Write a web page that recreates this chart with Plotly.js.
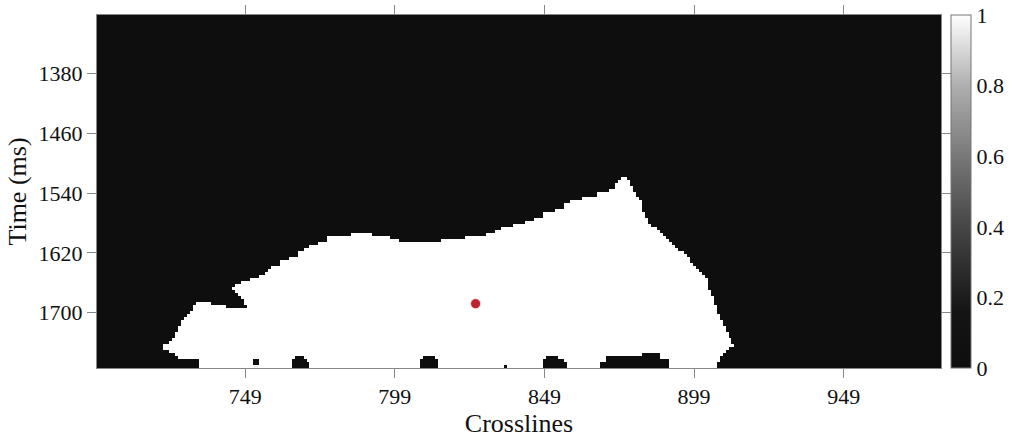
<!DOCTYPE html>
<html>
<head>
<meta charset="utf-8">
<script src="https://cdn.plot.ly/plotly-3.0.1.min.js"></script>
<style>
  html, body { margin: 0; padding: 0; background: #fff; }
  #chart { width: 1013px; height: 447px; }
</style>
</head>
<body>
<div id="chart"></div>
<script>
// grid of the section
const firstCrossline = 700;
const lastCrossline = 981;
const firstTime = 1304;
const lastTime = 1772;
const sampleRate = 4;

// top of the body: first white sample, run starts at topCols[i]
const topCols = [722, 724, 725, 726, 727, 728, 729, 730, 731, 732, 733, 738, 743, 745, 746, 748, 751, 754, 756, 757,
    758, 761, 764, 767, 769, 771, 774, 777, 785, 792, 798, 801, 815, 823, 830, 833, 835, 839, 843, 846,
    849, 853, 856, 858, 862, 867, 871, 873, 874, 875, 877, 878, 879, 880, 881, 882, 883, 884, 885, 887,
    888, 889, 890, 891, 892, 893, 894, 896, 897, 898, 899, 900, 901, 902, 903, 904, 905, 906, 907, 908,
    909, 910, 911, 912];
const topTimes = [1744, 1740, 1736, 1728, 1720, 1712, 1708, 1704, 1700, 1692, 1688, 1692, 1696, 1668, 1664, 1660, 1656, 1652, 1648, 1644,
    1640, 1632, 1628, 1620, 1616, 1612, 1608, 1600, 1596, 1600, 1604, 1608, 1604, 1600, 1596, 1592, 1588, 1584, 1580, 1576,
    1568, 1564, 1556, 1552, 1548, 1540, 1536, 1528, 1524, 1520, 1524, 1532, 1540, 1548, 1552, 1568, 1576, 1584, 1588, 1592,
    1596, 1600, 1604, 1608, 1612, 1616, 1620, 1624, 1628, 1636, 1640, 1644, 1648, 1652, 1656, 1672, 1680, 1692, 1704, 1712,
    1720, 1728, 1736, 1744];
const bodyLastCol = 912;

// base of the body: last white sample
const bottomCols = [722, 724, 726, 727, 734, 765, 766, 769, 770, 771, 808, 809, 813, 814, 836, 837, 849, 850, 854, 856,
    857, 868, 870, 882, 888, 891, 907, 908, 909, 910, 911];
const bottomTimes = [1748, 1752, 1756, 1760, 1772, 1760, 1756, 1760, 1764, 1772, 1760, 1756, 1760, 1772, 1768, 1772, 1760, 1756, 1760, 1764,
    1772, 1764, 1756, 1752, 1760, 1772, 1764, 1756, 1752, 1748, 1744];

// black gaps inside the body
const holeCols = [745, 746, 747, 748, 749, 752, 753];
const holeFrom = [1672, 1676, 1680, 1684, 1692, 1764, 1764];
const holeTo = [1692, 1692, 1692, 1692, 1692, 1768, 1768];

// picked point
const pointCrossline = [826];
const pointTime = [1688];

const colorbarTicks = [0, 0.2, 0.4, 0.6, 0.8, 1];
const xTicks = [749, 799, 849, 899, 949];
const yTicks = [1380, 1460, 1540, 1620, 1700];

function runValue(cols, values, c){
    let v = null;
    for (let i = 0; i < cols.length; i++){
        if (cols[i] <= c) v = values[i];
    }
    return v;
}

function buildMask(){
    let x = [];
    let y = [];
    let z = [];
    for (let c = firstCrossline; c <= lastCrossline; c++) x.push(c);
    for (let t = firstTime; t <= lastTime; t += sampleRate) y.push(t);

    for (let r = 0; r < y.length; r++){
        let row = [];
        for (let k = 0; k < x.length; k++){
            let c = x[k];
            let t = y[r];
            let v = 0;
            if (c >= topCols[0] && c <= bodyLastCol){
                let top = runValue(topCols, topTimes, c);
                let bot = runValue(bottomCols, bottomTimes, c);
                if (t >= top && t <= bot) v = 1;
                for (let h = 0; h < holeCols.length; h++){
                    if (holeCols[h] === c && t >= holeFrom[h] && t <= holeTo[h]) v = 0;
                }
            }
            row.push(v);
        }
        z.push(row);
    }
    return {x, y, z};
}

const mask = buildMask();
const serif = "Liberation Serif, Times New Roman, serif";

let traces = [];
traces.push({
    type: 'heatmap',
    x: mask.x,
    y: mask.y,
    z: mask.z,
    zmin: 0,
    zmax: 1,
    zsmooth: false,
    hoverinfo: 'none',
    colorscale: [
        [0, 'rgb(14,14,14)'],
        [0.16, 'rgb(20,20,20)'],
        [0.4, 'rgb(70,70,70)'],
        [0.6, 'rgb(120,120,120)'],
        [0.8, 'rgb(175,175,175)'],
        [1, 'rgb(255,255,255)']
    ],
    colorbar: {
        x: 1.0122,
        xanchor: 'left',
        xpad: 0,
        y: 0.5,
        yanchor: 'middle',
        ypad: 0,
        len: 1,
        lenmode: 'fraction',
        thickness: 20,
        thicknessmode: 'pixels',
        outlinewidth: 1,
        outlinecolor: '#777',
        tickvals: colorbarTicks,
        ticktext: colorbarTicks.map(String),
        ticks: '',
        tickfont: {family: serif, size: 22, color: '#111'}
    }
});
traces.push({
    type: 'scatter',
    mode: 'markers',
    x: pointCrossline,
    y: pointTime,
    hoverinfo: 'none',
    marker: {size: 10, color: '#bd2430', line: {color: 'rgba(255,230,230,0.8)', width: 1}}
});

let layout = {
    width: 1013,
    height: 447,
    margin: {l: 97, r: 72, t: 15, b: 79},
    paper_bgcolor: '#fff',
    plot_bgcolor: '#0e0e0e',
    showlegend: false,
    font: {family: serif, color: '#111'},
    xaxis: {
        range: [699.5, 981.5],
        tickvals: xTicks,
        ticks: 'outside',
        ticklen: 9,
        tickcolor: '#888',
        showline: true,
        linecolor: '#888',
        mirror: 'ticks',
        showgrid: false,
        zeroline: false,
        tickfont: {family: serif, size: 22, color: '#111'},
        title: {text: 'Crosslines', font: {family: serif, size: 26, color: '#111'}, standoff: 2}
    },
    yaxis: {
        range: [1774, 1302],
        tickvals: yTicks,
        ticks: 'outside',
        ticklen: 9,
        tickcolor: '#888',
        showline: true,
        linecolor: '#888',
        mirror: 'ticks',
        showgrid: false,
        zeroline: false,
        tickfont: {family: serif, size: 22, color: '#111'},
        title: {text: 'Time (ms)', font: {family: serif, size: 26, color: '#111'}, standoff: 4}
    }
};

Plotly.newPlot('chart', traces, layout, {displayModeBar: false, staticPlot: true});
</script>
</body>
</html>
